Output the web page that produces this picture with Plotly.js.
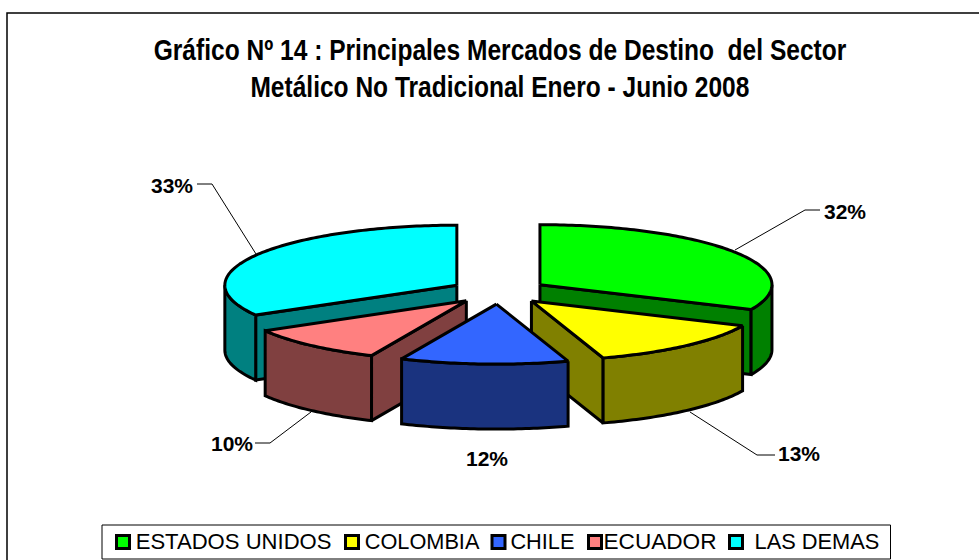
<!DOCTYPE html>
<html><head><meta charset="utf-8">
<script src="https://cdn.plot.ly/plotly-3.0.1.min.js"></script>
<style>html,body{margin:0;padding:0;background:#fff}#c{width:979px;height:560px}</style></head>
<body><div id="c"></div>
<script>
const categories = ["ESTADOS UNIDOS","COLOMBIA","CHILE","ECUADOR","LAS DEMAS"];
const shares = [31.8,13.2,11.7,10.0,33.3];
const percentLabels = ["32%","13%","12%","10%","33%"];
const topColors = ["#00FF00","#FFFF00","#3366FF","#FF8080","#00FFFF"];
const sideColors = ["#008000","#808000","#1A337F","#804040","#008080"];
const titleLines = ["Gráfico Nº 14 : Principales Mercados de Destino  del Sector","Metálico No Tradicional Enero - Junio 2008"];

// projection of the tilted pie onto the page
const cx=499, cy=291.5, rx=232, ry=60, depth=65, explode=48.7;
const rad=d=>d*Math.PI/180;
function pt(apex,deg,r,drop){return [apex[0]+r*rx*Math.sin(rad(deg)), apex[1]-r*ry*Math.cos(rad(deg))+(drop||0)];}
function arc(apex,a,b,drop){const n=Math.max(2,Math.ceil(Math.abs(b-a)));const o=[];for(let i=0;i<=n;i++)o.push(pt(apex,a+(b-a)*i/n,1,drop));return o;}
function poly(points,color,name){return {type:'scatter',mode:'lines',x:points.map(p=>p[0]),y:points.map(p=>p[1]),fill:'toself',fillcolor:color,line:{color:'#000',width:3,simplify:false},hoverinfo:'name',name:name,showlegend:false};}

let acc=0;
const slices=shares.map((v,i)=>{const a=acc*3.6;acc+=v;const b=acc*3.6;const m=(a+b)/2;
  const e=explode/rx;
  const apex=[cx+explode*Math.sin(rad(m)), cy-e*ry*Math.cos(rad(m))];
  return {i,a,b,apex};});

function sliceTraces(s){
  const t=[];const nm=categories[s.i];const side=sideColors[s.i];
  const wall=(deg)=>{const c=pt(s.apex,deg,1);t.push(poly([s.apex,c,[c[0],c[1]+depth],[s.apex[0],s.apex[1]+depth],s.apex],side,nm));};
  if(Math.sin(rad(s.b))>0) wall(s.b);
  if(Math.sin(rad(s.a))<0) wall(s.a);
  const lo=Math.max(s.a,90), hi=Math.min(s.b,270);
  if(hi>lo){const top=arc(s.apex,lo,hi,0), bot=arc(s.apex,hi,lo,depth);t.push(poly(top.concat(bot,[top[0]]),side,nm));}
  const face=[s.apex].concat(arc(s.apex,s.a,s.b,0),[s.apex]);
  t.push(poly(face,topColors[s.i],nm));
  return t;
}
const drawOrder=[4,0,3,1,2];
const traces=[];
drawOrder.forEach(i=>traces.push(...sliceTraces(slices[i])));

// leader lines
const leaders=[
 {x:[735,805,820],y:[250,210,210]},
 {x:[690,757,775],y:[412,455,455]},
 {x:[311,270,255],y:[412,443,443]},
 {x:[256,212,197],y:[254,184,184]}
];
leaders.forEach(l=>traces.push({type:'scatter',mode:'lines',x:l.x,y:l.y,line:{color:'#000',width:1},hoverinfo:'skip',showlegend:false}));

const F='"Liberation Sans",Arial,sans-serif';
// legend
const legMarkX=[123,352,498.5,595,736];
const legTextX=[135,364,510,603,754];
const legTextW=[196,115,64,113,125];
const annotations=[];
const fitWidths=[];
categories.forEach((c,i)=>{traces.push({type:'scatter',mode:'markers',x:[legMarkX[i]],y:[542],
  marker:{symbol:'square',size:13,color:topColors[i],line:{color:'#000',width:3}},hoverinfo:'skip',showlegend:false,cliponaxis:false});
  annotations.push({x:legTextX[i]+legTextW[i]/2,y:541.5,xref:'x',yref:'y',text:c,showarrow:false,font:{family:F,size:22,color:'#000'}});
  fitWidths.push(legTextW[i]);
});

const labelPos=[[845,211],[799,453],[487,458],[232,443],[172,185]];
percentLabels.forEach((t,i)=>{annotations.push({x:labelPos[i][0],y:labelPos[i][1],xref:'x',yref:'y',text:'<b>'+t+'</b>',showarrow:false,font:{family:F,size:21,color:'#000'}});fitWidths.push(null);});
const titleW=[693,499];
titleLines.forEach((t,i)=>{annotations.push({x:499.5,y:[49.5,87][i],xref:'x',yref:'y',text:'<b>'+t+'</b>',showarrow:false,font:{family:F,size:29,color:'#000'}});fitWidths.push(titleW[i]);});

const layout={width:979,height:560,margin:{l:0,r:0,t:0,b:0},paper_bgcolor:'#fff',plot_bgcolor:'#fff',showlegend:false,
 xaxis:{range:[0,979],visible:false,fixedrange:true},
 yaxis:{range:[560,0],visible:false,fixedrange:true},
 annotations,
 shapes:[
  {type:'rect',xref:'x',yref:'y',x0:7,x1:1000,y0:13,y1:600,line:{color:'#000',width:1.5},layer:'below'},
  {type:'rect',xref:'x',yref:'y',x0:102,x1:890.5,y0:525,y1:559,line:{color:'#000',width:1},layer:'below'}
 ]};
Plotly.newPlot('c',traces,layout,{displayModeBar:false,staticPlot:true}).then(()=>{
  // the reference's Arial is horizontally condensed: squeeze text to the measured widths
  document.querySelectorAll('#c .annotation-text').forEach((el,i)=>{
    const w=fitWidths[i]; if(!w) return;
    const b=el.getBBox(); const mid=b.x+b.width/2;
    el.setAttribute('transform','translate('+mid+',0) scale('+(w/b.width)+',1) translate('+(-mid)+',0)');
  });
});
</script></body></html>
